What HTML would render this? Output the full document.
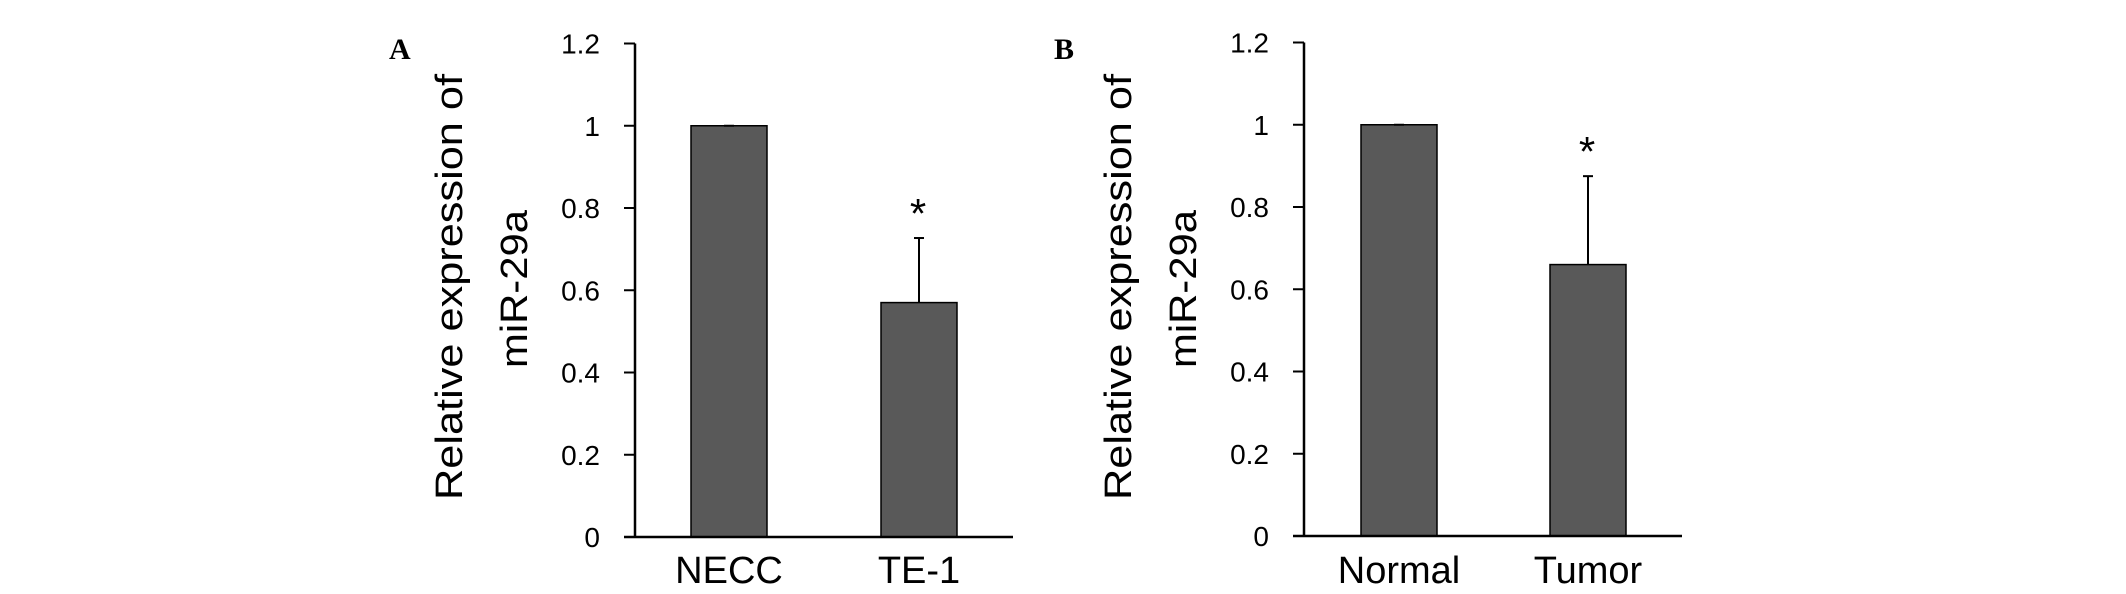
<!DOCTYPE html>
<html><head><meta charset="utf-8"><style>
html,body{margin:0;padding:0;background:#fff;}
svg{display:block;}
text{font-family:"Liberation Sans",sans-serif;fill:#000;}
</style></head><body>
<svg id="fig" width="2126" height="594" viewBox="0 0 2126 594"></svg>
<script>
const ticks = [0, 0.2, 0.4, 0.6, 0.8, 1, 1.2];
const tickLabels = ["0", "0.2", "0.4", "0.6", "0.8", "1", "1.2"];
const catsA = ["NECC", "TE-1"];
const valsA = [1.0, 0.57];
const errA = [0.0, 0.157];
const sigA = [false, true];
const catsB = ["Normal", "Tumor"];
const valsB = [1.0, 0.66];
const errB = [0.0, 0.215];
const sigB = [false, true];

const NS = "http://www.w3.org/2000/svg";
const svg = document.getElementById('fig');
function mk(tag, attrs, parent) {
  const e = document.createElementNS(NS, tag);
  for (const k in attrs) e.setAttribute(k, attrs[k]);
  (parent || svg).appendChild(e);
  return e;
}

function panel(cfg) {
  const g = mk('g', {});
  
  
  const y = v => cfg.y0 - (v / 1.2) * (cfg.y0 - cfg.y12);
  const x = i => cfg.ax + cfg.barOff[i];

  const lab = mk('text', {x: cfg.labelX, y: 59, 'font-size': 30, 'font-weight': 'bold', style: 'font-family:"Liberation Serif",serif'}, g);
  lab.textContent = cfg.label;
  
  

  const t1 = mk('text', {transform: `translate(${cfg.ax - 173},287) rotate(-90)`, 'text-anchor': 'middle', 'font-size': 38, textLength: 426, lengthAdjust: 'spacingAndGlyphs'}, g);
  t1.textContent = 'Relative expression of';
  
  
  const t2 = mk('text', {transform: `translate(${cfg.ax - 108},289) rotate(-90)`, 'text-anchor': 'middle', 'font-size': 38, textLength: 158, lengthAdjust: 'spacingAndGlyphs'}, g);
  t2.textContent = 'miR-29a';
  
  

  ticks.forEach((v, i) => {
    const tk = mk('line', {x1: cfg.ax - 11, x2: cfg.ax, y1: y(v), y2: y(v), stroke: '#000', 'stroke-width': 2}, g);
    
    
    const tl = mk('text', {x: cfg.ax - 35, y: y(v) + 10, 'text-anchor': 'end', 'font-size': 28}, g);
    tl.textContent = tickLabels[i];
    
    
  });

  cfg.vals.forEach((v, i) => {
    const b = mk('rect', {x: x(i), y: y(v), width: 76, height: y(0) - y(v), fill: '#595959', stroke: '#000', 'stroke-width': 1.5}, g);
    
    
    const cx = x(i) + 38;
    if (cfg.err[i] > 0) {
      const top = y(v + cfg.err[i]);
      const e1 = mk('line', {x1: cx, x2: cx, y1: y(v), y2: top, stroke: '#000', 'stroke-width': 2}, g);
      
      
      const e2 = mk('line', {x1: cx - 5, x2: cx + 5, y1: top, y2: top, stroke: '#000', 'stroke-width': 2}, g);
      
      
    } else {
      const e2 = mk('line', {x1: cx - 5, x2: cx + 5, y1: y(v), y2: y(v), stroke: '#000', 'stroke-width': 2}, g);
      
      
    }
    if (cfg.sig[i]) {
      const s = mk('text', {x: cx - 1, y: y(v + cfg.err[i]) - 10, 'text-anchor': 'middle', 'font-size': 42}, g);
      s.textContent = '*';
      
      
    }
    const xl = mk('text', {x: cx, y: 583, 'text-anchor': 'middle', 'font-size': 38}, g);
    xl.textContent = cfg.cats[i];
    
    
  });

  const ya = mk('line', {x1: cfg.ax, x2: cfg.ax, y1: y(1.2), y2: y(0) + 1, stroke: '#000', 'stroke-width': 2.5}, g);
  
  
  const xa = mk('line', {x1: cfg.ax - 11, x2: cfg.ax + 378, y1: y(0), y2: y(0), stroke: '#000', 'stroke-width': 2.5}, g);
  
  
}

panel({name: 'panel-a', label: 'A', labelX: 389, ax: 635, y0: 537, y12: 43.5, barOff: [56, 246], cats: catsA, vals: valsA, err: errA, sig: sigA});
panel({name: 'panel-b', label: 'B', labelX: 1054, ax: 1304, y0: 536, y12: 42.5, barOff: [57, 246], cats: catsB, vals: valsB, err: errB, sig: sigB});
</script>
</body></html>
